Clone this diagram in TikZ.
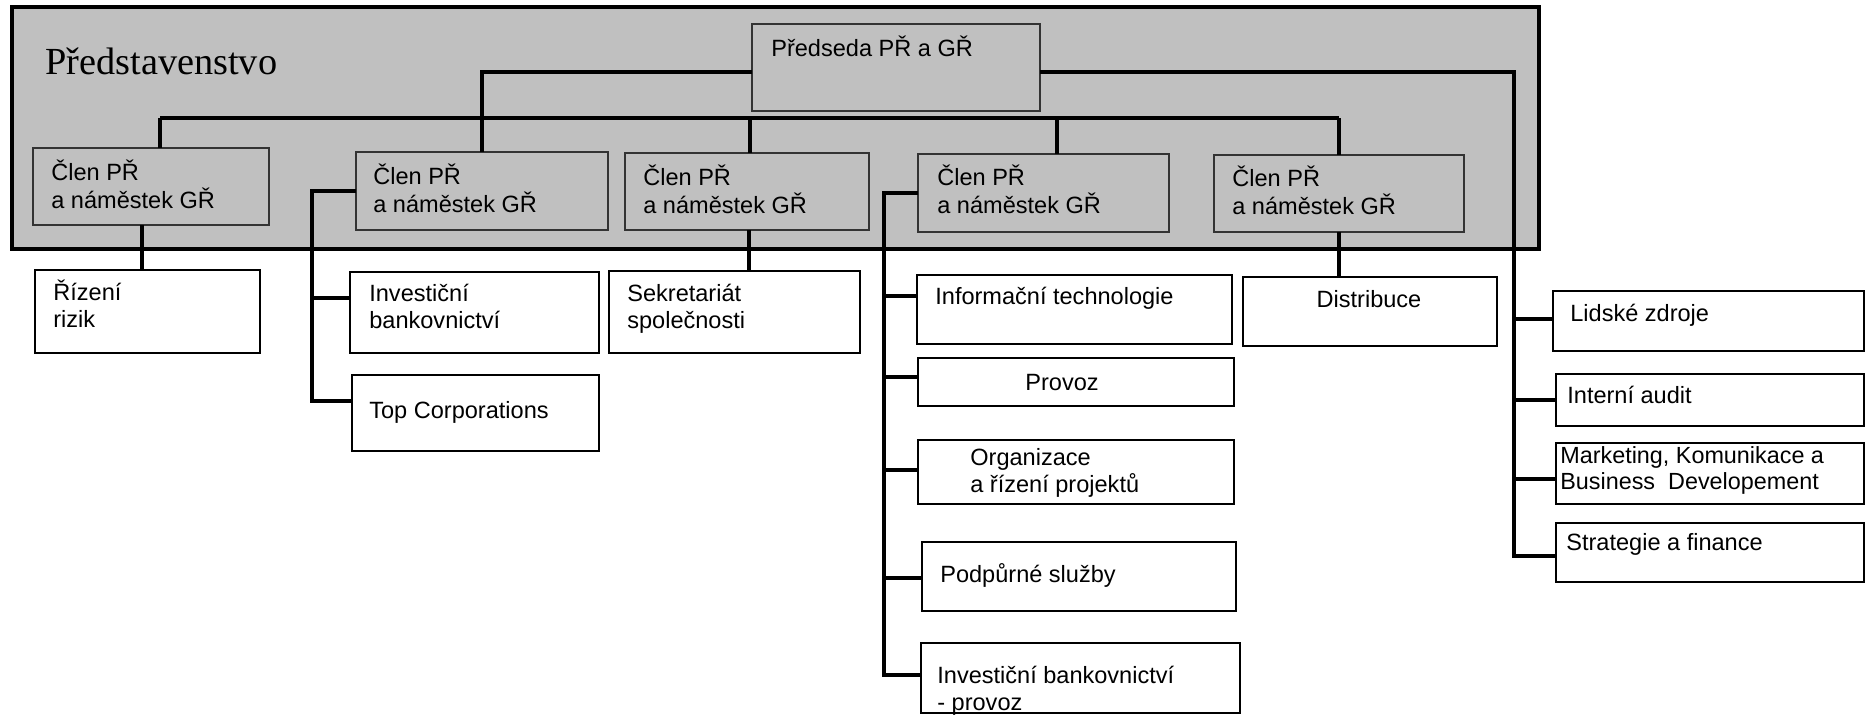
\documentclass[tikz,border=0pt]{standalone}
\usepackage{fontspec}
\setmainfont{Liberation Serif}
\setsansfont{Liberation Sans}
\usetikzlibrary{fit}
\definecolor{boardgray}{RGB}{192,192,192}
\newcommand\bx[6]{\coordinate (#1-a) at (#2,#3); \coordinate (#1-b) at (#4,#5);
  \node[#6,fit=(#1-a)(#1-b),inner sep=0pt,outer sep=0pt] (#1) {};}
\newcommand\tl[1]{\begin{tabular}[t]{@{}l@{}}#1\end{tabular}}
\begin{document}
\begin{tikzpicture}[x=0.02cm,y=-0.02cm,
  conn/.style={line width=2.1pt,line join=miter},
  inbox/.style={draw=black!80,line width=0.8pt},
  outbox/.style={draw=black,fill=white,line width=1.2pt},
  lbl/.style={anchor=base west,inner sep=0pt,font=\sffamily\fontsize{13.4}{15.4}\selectfont},
  lblc/.style={anchor=base,inner sep=0pt,font=\sffamily\fontsize{13.4}{15.4}\selectfont},
  lbls/.style={anchor=base west,inner sep=0pt,font=\sffamily\fontsize{13.3}{15}\selectfont}]
\useasboundingbox (0,0) rectangle (1865,714);
% board
\bx{board}{12}{7}{1539}{249}{draw=black,fill=boardgray,line width=2.2pt}
\node[anchor=base west,inner sep=0pt,font=\rmfamily\fontsize{21.8}{26}\selectfont] (boardT) at (45,74) {Představenstvo};
% coordinates for connectors
\coordinate (yTop) at (0,72);
\coordinate (d1) at (160,118);
\coordinate (d3) at (750,118);
\coordinate (d4) at (1057,118);
\coordinate (d5) at (1339,118);
\coordinate (u1) at (142,0);
\coordinate (u3) at (749,0);
\coordinate (u5) at (1339,0);
\coordinate (b2a) at (312,298);
\coordinate (b2b) at (312,401);
\coordinate (b4a) at (884,296);
\coordinate (b4b) at (884,377);
\coordinate (b4c) at (884,470);
\coordinate (b4d) at (884,578);
\coordinate (b4e) at (884,675);
\coordinate (r1) at (1514,319);
\coordinate (r2) at (1514,400);
\coordinate (r3) at (1514,479);
\coordinate (r4) at (1514,556);
% boxes (geometry)
\bx{pred}{752}{24}{1040}{111}{inbox}
\bx{a1}{33}{148}{269}{225}{inbox}
\bx{a2}{356}{152}{608}{230}{inbox}
\bx{a3}{625}{153}{869}{230}{inbox}
\bx{a4}{918}{154}{1169}{232}{inbox}
\bx{a5}{1214}{155}{1464}{232}{inbox}
% connectors
\draw[conn] (pred.west |- yTop) -| (a2.north);
\draw[conn] (pred.east |- yTop) -| (r4) -- (r4 -| 1556,0);
\draw[conn] (d1) -- (d5);
\draw[conn] (d1) -- (d1 |- a1.north);
\draw[conn] (d3) -- (d3 |- a3.north);
\draw[conn] (d4) -- (d4 |- a4.north);
\draw[conn] (d5) -- (d5 |- a5.north);
\draw[conn] (u1 |- a1.south) -- (u1 |- 0,270);
\draw[conn] (u3 |- a3.south) -- (u3 |- 0,271);
\draw[conn] (u5 |- a5.south) -- (u5 |- 0,277);
\draw[conn] (a2.west) -| (b2b) -- (b2b -| 352,0);
\draw[conn] (b2a) -- (b2a -| 350,0);
\draw[conn] (a4.west) -| (b4e) -- (b4e -| 921,0);
\draw[conn] (b4a) -- (b4a -| 917,0);
\draw[conn] (b4b) -- (b4b -| 918,0);
\draw[conn] (b4c) -- (b4c -| 918,0);
\draw[conn] (b4d) -- (b4d -| 922,0);
\draw[conn] (r1) -- (r1 -| 1553,0);
\draw[conn] (r2) -- (r2 -| 1556,0);
\draw[conn] (r3) -- (r3 -| 1556,0);
% lower boxes
\bx{riz}{35}{270}{260}{353}{outbox}
\bx{inv}{350}{272}{599}{353}{outbox}
\bx{topc}{352}{375}{599}{451}{outbox}
\bx{sek}{609}{271}{860}{353}{outbox}
\bx{it}{917}{275}{1232}{344}{outbox}
\bx{prov}{918}{358}{1234}{406}{outbox}
\bx{org}{918}{440}{1234}{504}{outbox}
\bx{pod}{922}{542}{1236}{611}{outbox}
\bx{ibp}{921}{643}{1240}{713}{outbox}
\bx{dis}{1243}{277}{1497}{346}{outbox}
\bx{lid}{1553}{291}{1864}{351}{outbox}
\bx{ia}{1556}{374}{1864}{426}{outbox}
\bx{mkt}{1556}{443}{1864}{504}{outbox}
\bx{stf}{1556}{523}{1864}{582}{outbox}
% labels
\node[lbl] (predT) at (771,56) {Předseda PŘ a GŘ};
\node[lbl] (a1T) at (51,180) {\tl{Člen PŘ\\a náměstek GŘ}};
\node[lbl] (a2T) at (373,184) {\tl{Člen PŘ\\a náměstek GŘ}};
\node[lbl] (a3T) at (643,185) {\tl{Člen PŘ\\a náměstek GŘ}};
\node[lbl] (a4T) at (937,185) {\tl{Člen PŘ\\a náměstek GŘ}};
\node[lbl] (a5T) at (1232,186) {\tl{Člen PŘ\\a náměstek GŘ}};
\node[lbl] (rizT) at (53,300) {\tl{Řízení\\rizik}};
\node[lbl] (invT) at (369,301) {\tl{Investiční\\bankovnictví}};
\node[lbl] (topcT) at (369,418) {Top Corporations};
\node[lbl] (sekT) at (627,301) {\tl{Sekretariát\\společnosti}};
\node[lbl] (itT) at (935,304) {Informační technologie};
\node[lblc] (provT) at (1062,390) {Provoz};
\node[lbl] (orgT) at (970,465) {\tl{Organizace\\a řízení projektů}};
\node[lbl] (podT) at (940,582) {Podpůrné služby};
\node[lbl] (ibpT) at (937,683) {\tl{Investiční bankovnictví\\- provoz}};
\node[lblc] (disT) at (1369,307) {Distribuce};
\node[lbl] (lidT) at (1570,321) {Lidské zdroje};
\node[lbl] (iaT) at (1567,403) {Interní audit};
\node[lbls] (mktT) at (1560,463) {\tl{Marketing, Komunikace a\\Business\ \ Developement}};
\node[lbl] (stfT) at (1566,550) {Strategie a finance};
\end{tikzpicture}
\end{document}
